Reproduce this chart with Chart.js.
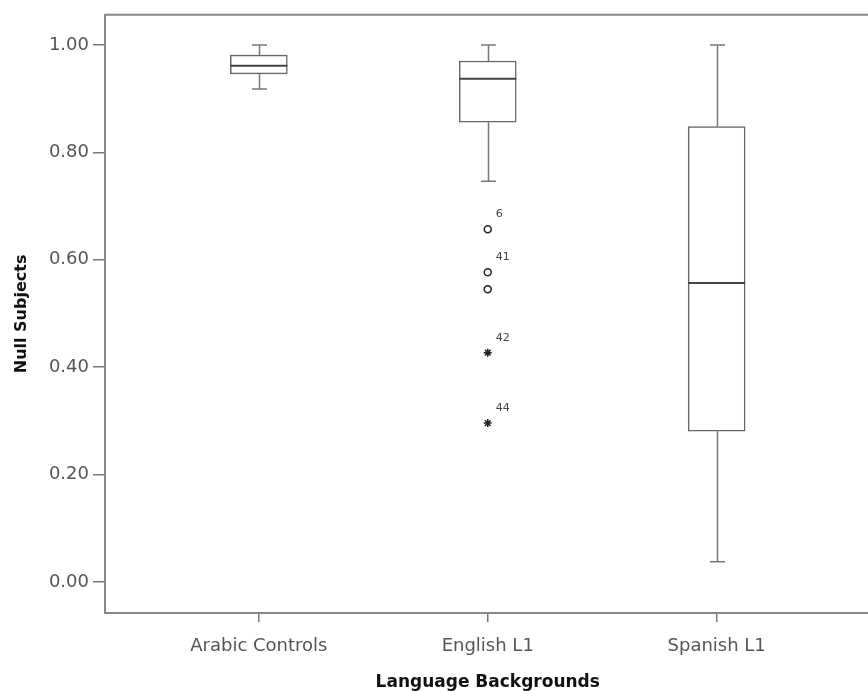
<!DOCTYPE html>
<html>
<head>
<meta charset="utf-8">
<script src="https://cdn.jsdelivr.net/npm/chart.js@4"></script>
<style>
  html, body { margin: 0; padding: 0; background: #fff; overflow: hidden; }
  #wrap { width: 876px; height: 691px; }
</style>
</head>
<body>
<div id="wrap"><canvas id="c" width="876" height="691"></canvas></div>
<script>
// ---- data ----
const categories = ['Arabic Controls', 'English L1', 'Spanish L1'];
const whiskerLow  = [0.918, 0.746, 0.038];
const q1          = [0.946, 0.856, 0.281];
const median      = [0.961, 0.937, 0.557];
const q3          = [0.981, 0.970, 0.848];
const whiskerHigh = [1.000, 1.000, 1.000];

const outlierCategory = [1, 1, 1, 1, 1];
const outlierValues   = [0.657, 0.577, 0.545, 0.427, 0.296];
const outlierLabels   = ['6', '41', '', '42', '44'];
const outlierStyles   = ['circle', 'circle', 'circle', 'star', 'star'];

const yTicks = [0.00, 0.20, 0.40, 0.60, 0.80, 1.00];

// ---- chart ----
const FONT = 'DejaVu Sans';

const boxPlugin = {
  id: 'boxParts',
  beforeDatasetsDraw(chart) {
    const { ctx, scales: { x, y }, chartArea } = chart;
    ctx.save();
    // top / right frame lines
    ctx.strokeStyle = '#888';
    ctx.lineWidth = 2;
    ctx.beginPath();
    ctx.moveTo(chartArea.left, chartArea.top);
    ctx.lineTo(chartArea.right, chartArea.top);
    ctx.moveTo(chartArea.right, chartArea.top);
    ctx.lineTo(chartArea.right, chartArea.bottom);
    ctx.stroke();
    // whiskers
    ctx.strokeStyle = '#777';
    ctx.lineWidth = 1.5;
    const cap = 7.5;
    categories.forEach((c, i) => {
      const px = Math.round(x.getPixelForValue(i)) + 0.5;
      const yHi = y.getPixelForValue(whiskerHigh[i]);
      const yQ3 = y.getPixelForValue(q3[i]);
      const yQ1 = y.getPixelForValue(q1[i]);
      const yLo = y.getPixelForValue(whiskerLow[i]);
      ctx.beginPath();
      ctx.moveTo(px, yHi); ctx.lineTo(px, yQ3);
      ctx.moveTo(px, yQ1); ctx.lineTo(px, yLo);
      ctx.moveTo(px - cap, yHi); ctx.lineTo(px + cap, yHi);
      ctx.moveTo(px - cap, yLo); ctx.lineTo(px + cap, yLo);
      ctx.stroke();
    });
    ctx.restore();
  },
  afterDatasetsDraw(chart) {
    const { ctx, scales: { x, y } } = chart;
    const meta = chart.getDatasetMeta(0);
    ctx.save();
    // medians
    ctx.strokeStyle = '#444';
    ctx.lineWidth = 2;
    categories.forEach((c, i) => {
      const bar = meta.data[i];
      const half = bar.width / 2;
      const py = y.getPixelForValue(median[i]);
      ctx.beginPath();
      ctx.moveTo(bar.x - half, py);
      ctx.lineTo(bar.x + half, py);
      ctx.stroke();
    });
    // outlier case labels
    ctx.fillStyle = '#444';
    ctx.font = '11px "' + FONT + '"';
    ctx.textAlign = 'left';
    ctx.textBaseline = 'middle';
    outlierValues.forEach((v, i) => {
      if (!outlierLabels[i]) return;
      const px = x.getPixelForValue(outlierCategory[i]);
      const py = y.getPixelForValue(v);
      ctx.fillText(outlierLabels[i], px + 8, py - 15);
    });
    ctx.restore();
  }
};

new Chart(document.getElementById('c'), {
  type: 'bar',
  data: {
    datasets: [
      {
        type: 'bar',
        data: categories.map((c, i) => ({ x: i, y: [q1[i], q3[i]] })),
        backgroundColor: '#ffffff',
        borderColor: '#666',
        borderWidth: 1.5,
        borderSkipped: false,
        barThickness: 57,
        order: 2
      },
      {
        type: 'scatter',
        data: outlierValues.map((v, i) => ({ x: outlierCategory[i], y: v })),
        pointStyle: outlierStyles,
        pointRadius: outlierStyles.map(s => s === 'star' ? 4 : 3.5),
        pointBorderColor: '#222',
        pointBackgroundColor: '#fff',
        pointBorderWidth: 1.5,
        showLine: false,
        order: 1
      }
    ]
  },
  options: {
    responsive: false,
    devicePixelRatio: 1,
    animation: false,
    layout: { padding: { top: 13, right: 5, left: 0, bottom: 0 } },
    plugins: {
      legend: { display: false },
      tooltip: { enabled: false }
    },
    scales: {
      x: {
        type: 'linear',
        offset: false,
        min: -0.672,
        max: 2.672,
        afterBuildTicks: (s) => { s.ticks = categories.map((c, i) => ({ value: i })); },
        afterFit: (s) => { s.height = 78; },
        ticks: {
          callback: (v) => categories[v],
          color: '#555',
          font: { family: FONT, size: 18 },
          padding: 14,
          maxRotation: 0,
          autoSkip: false
        },
        grid: { offset: false, drawOnChartArea: false, drawTicks: true, tickLength: 9, color: '#777', lineWidth: 1.5 },
        border: { display: true, color: '#888', width: 2 },
        title: {
          display: true,
          text: 'Language Backgrounds',
          color: '#111',
          font: { family: FONT, size: 17, weight: 'bold', lineHeight: 1 },
          padding: { top: 0, bottom: 0 }
        }
      },
      y: {
        type: 'linear',
        min: -0.0575,
        max: 1.056,
        afterBuildTicks: (s) => { s.ticks = yTicks.map(v => ({ value: v })); },
        afterFit: (s) => { s.width = 105; },
        ticks: {
          callback: (v) => Number(v).toFixed(2),
          color: '#555',
          font: { family: FONT, size: 18 },
          padding: 4
        },
        grid: { drawOnChartArea: false, drawTicks: true, tickLength: 12, color: '#777', lineWidth: 1.5 },
        border: { display: true, color: '#888', width: 2 },
        title: {
          display: true,
          text: 'Null Subjects',
          color: '#111',
          font: { family: FONT, size: 16, weight: 'bold' },
          padding: { top: 12, bottom: 0 }
        }
      }
    }
  },
  plugins: [boxPlugin]
});
</script>
</body>
</html>
